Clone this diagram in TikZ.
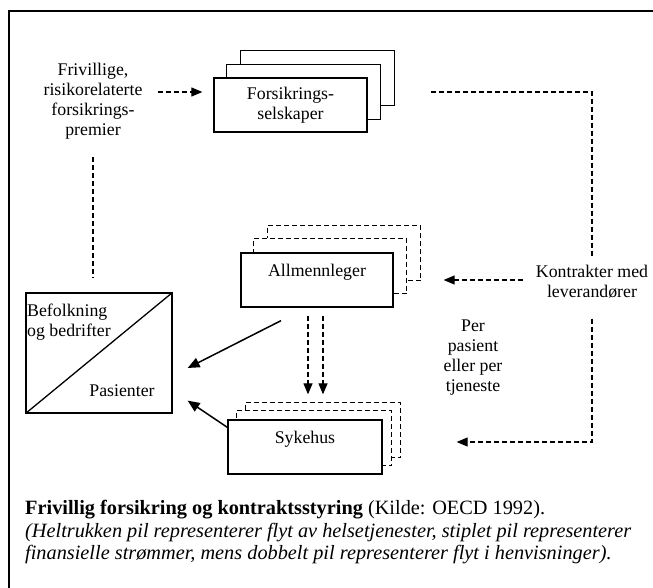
\documentclass[tikz,border=0pt]{standalone}
\usepackage{fontspec}
\setmainfont{Liberation Serif}
\usetikzlibrary{arrows.meta,backgrounds}
\begin{document}
\begin{tikzpicture}[x=1pt,y=-1pt,
  lbl/.style={font=\fontsize{17.8}{20}\selectfont, align=center, inner sep=0pt},
  box/.style={draw, line width=1.3pt, fill=white, minimum height=54pt, inner sep=0pt, align=center, font=\fontsize{17.8}{20}\selectfont},
  back/.style={draw, line width=1.3pt, fill=white},
  fin/.style={line width=1.2pt, dash pattern=on 5pt off 3pt},
  tip/.style={-{Triangle[length=11pt,width=9pt]}},
  flow/.style={line width=1.5pt, -{Triangle[length=12pt,width=10pt]}},
]
\useasboundingbox (0,0) rectangle (653,588);
% frame
\draw[line width=2.5pt] (9,588) -- (9,11) -- (653,11);

% boxes
\node[box, minimum width=153pt] (fs) at (290.5,105) {Forsikrings-\\selskaper};
\node[box, minimum width=152pt] (gp) at (317,280) {Allmennleger\\\mbox{}};
\node[box, minimum width=154pt] (sh) at (305,447) {Sykehus\\\mbox{}};
\node[draw, line width=1.3pt, minimum width=146pt, minimum height=120pt, inner sep=0pt] (bf) at (99,353) {};
\draw[line width=1.3pt] (bf.south west) -- (bf.north east);

\begin{pgfonlayer}{background}
\draw[back] ([shift={(27,-27)}]fs.south west) rectangle ([shift={(27,-27)}]fs.north east);
\draw[back] ([shift={(13,-13)}]fs.south west) rectangle ([shift={(13,-13)}]fs.north east);
\draw[back, fin] ([shift={(27,-27)}]gp.south west) rectangle ([shift={(27,-27)}]gp.north east);
\draw[back, fin] ([shift={(13,-14)}]gp.south west) rectangle ([shift={(13,-14)}]gp.north east);
\draw[back, fin] ([shift={(18,-17)}]sh.south west) rectangle ([shift={(18,-17)}]sh.north east);
\draw[back, fin] ([shift={(9,-9)}]sh.south west) rectangle ([shift={(9,-9)}]sh.north east);
\end{pgfonlayer}

% labels
\node[lbl, align=left, anchor=north west] (bfa) at (27,304) {Befolkning\\og bedrifter};
\node[lbl] (pas) at (122,391) {Pasienter};
\node[lbl] (friv) at (93,101) {Frivillige,\\risikorelaterte\\forsikrings-\\premier};
\node[lbl] (kon) at (592,282) {Kontrakter med\\leverandører};
\node[lbl] (per) at (473,358) {Per\\pasient\\eller per\\tjeneste};

% caption
\node[anchor=north west, align=left, inner sep=0pt, font=\fontsize{20.3}{22.6}\selectfont] (cap) at (25,500)
 {\textbf{Frivillig forsikring og kontraktsstyring} (Kilde: OECD 1992).\\
  \textit{(Heltrukken pil representerer flyt av helsetjenester, stiplet pil representerer}\\
  \textit{finansielle strømmer, mens dobbelt pil representerer flyt i henvisninger).}};

% financial flows (dashed)
\draw[fin, tip, shorten <=15pt, shorten >=11pt] ([yshift=9pt]friv.east) -- ([yshift=13pt]fs.west);
\draw[fin, shorten >=9pt] ([xshift=63pt,yshift=13pt]fs.east) -| (kon.north);
\coordinate (shin) at ([shift={(74,-5)}]sh.east);
\draw[fin, tip, shorten <=20pt] (kon.south) |- (shin);
\draw[fin, tip, shorten <=13pt, shorten >=50pt] (kon.west |- gp.east) -- (gp.east);
\draw[fin, shorten <=18pt, shorten >=14pt] (friv.south) -- (friv.south |- bf.north);

% referrals (double arrow)
\draw[fin, tip, shorten <=8pt, shorten >=25pt] ([xshift=-9pt]gp.south) -- ([xshift=-9pt]gp.south |- sh.north);
\draw[fin, tip, shorten <=8pt, shorten >=25pt] ([xshift=6pt]gp.south) -- ([xshift=6pt]gp.south |- sh.north);

% service flows (solid)
\draw[flow] ([shift={(-36,13)}]gp.south) -- ([shift={(15,15)}]bf.east);
\draw[flow] ([shift={(0,8)}]sh.north west) -- ([shift={(15,-13)}]bf.south east);
\end{tikzpicture}
\end{document}
